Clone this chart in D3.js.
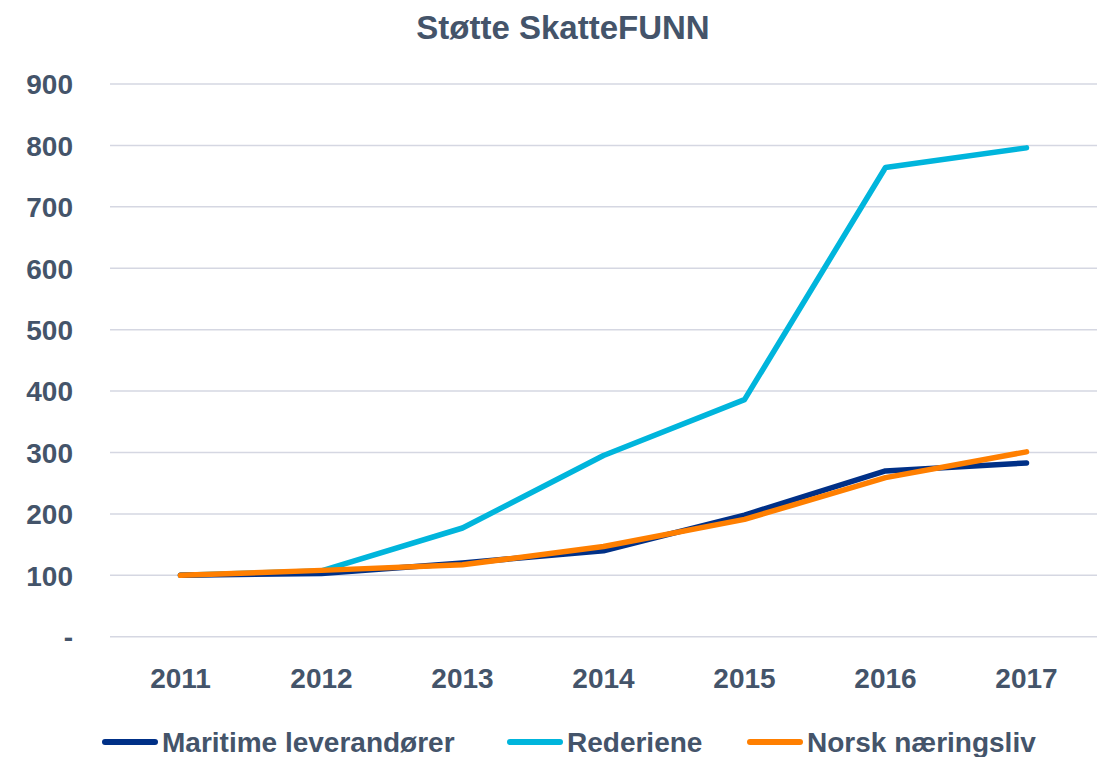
<!DOCTYPE html>
<html>
<head>
<meta charset="utf-8">
<script src="https://cdn.jsdelivr.net/npm/d3@7"></script>
<style>
  body { margin: 0; background: #fff; }
  svg text { font-family: "Liberation Sans", Arial, sans-serif; font-weight: bold; fill: #44546a; }
</style>
</head>
<body>
<svg id="chart"></svg>
<script>
const years = ["2011", "2012", "2013", "2014", "2015", "2016", "2017"];
const maritime = [100, 103, 120, 140, 198, 270, 283];
const rederiene = [100, 107, 177, 295, 386, 764, 796];
const norsk = [100, 108, 117, 147, 191, 259, 301];
const yTicks = [0, 100, 200, 300, 400, 500, 600, 700, 800, 900];
const seriesNames = ["Maritime leverandører", "Rederiene", "Norsk næringsliv"];
const seriesColors = ["#003087", "#00b5dc", "#ff7f00"];

const width = 1106;
const height = 757;
let svg = d3.select("#chart").attr("width", width).attr("height", height);

let scX = d3.scaleBand().domain(years).range([110, 1097]);
let scY = d3.scaleLinear().domain([0, 900]).range([636.7, 84]);

// title
svg.append("text")
    .attr("x", 563).attr("y", 39)
    .attr("text-anchor", "middle")
    .style("font-size", "33px")
    .text("Støtte SkatteFUNN");

// grid
svg.append("g")
    .selectAll("line")
    .data(yTicks)
    .enter()
    .append("line")
    .attr("x1", 110).attr("x2", 1097)
    .attr("y1", d => scY(d)).attr("y2", d => scY(d))
    .attr("stroke", "#d5d7e2")
    .attr("stroke-width", 1.5);

// y labels
let axisY = d3.axisLeft(scY).tickValues(yTicks).tickSize(0).tickPadding(0)
    .tickFormat(d => d === 0 ? "-" : d);
let gY = svg.append("g").attr("transform", "translate(73,0)").call(axisY);
gY.select(".domain").remove();
gY.selectAll("text").style("font-size", "28px").attr("fill", "#44546a")
    .attr("font-family", null).attr("dy", "0.35em");

// x labels
let axisX = d3.axisBottom(scX).tickSize(0).tickPadding(0);
let gX = svg.append("g").attr("transform", "translate(0,668)").call(axisX);
gX.select(".domain").remove();
gX.selectAll("text").style("font-size", "28px").attr("fill", "#44546a")
    .attr("font-family", null).attr("dy", "0.71em");

// lines
const allSeries = [maritime, rederiene, norsk];
const drawOrder = [1, 0, 2];
let line = d3.line()
    .x((d, i) => scX(years[i]) + scX.bandwidth() / 2)
    .y(d => scY(d));

drawOrder.forEach(k => {
    svg.append("path")
        .datum(allSeries[k])
        .attr("fill", "none")
        .attr("stroke", seriesColors[k])
        .attr("stroke-width", 5.5)
        .attr("stroke-linecap", "round")
        .attr("stroke-linejoin", "round")
        .attr("d", line);
});

// legend
const legendX = [105, 510, 750];
let lg = svg.append("g");
seriesNames.forEach((name, i) => {
    lg.append("line")
        .attr("x1", legendX[i]).attr("x2", legendX[i] + 50)
        .attr("y1", 742).attr("y2", 742)
        .attr("stroke", seriesColors[i])
        .attr("stroke-width", 6)
        .attr("stroke-linecap", "round");
    lg.append("text")
        .attr("x", legendX[i] + 57).attr("y", 752)
        .style("font-size", "28px")
        .text(name);
});
</script>
</body>
</html>
